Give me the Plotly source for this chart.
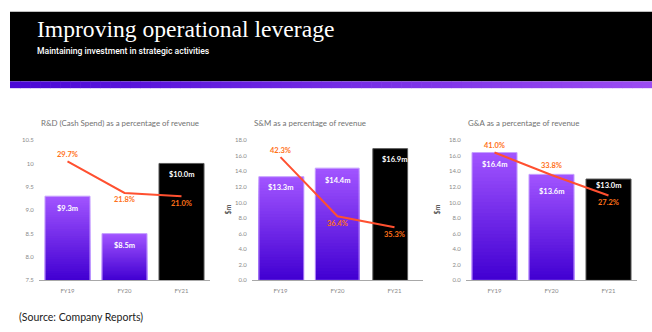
import plotly.graph_objects as go

W, H = 652, 332

# ---------------- data ----------------
categories = ["FY19", "FY20", "FY21"]

rd_spend = [9.3, 8.5, 10.0]          # $m
rd_pct = [29.7, 21.8, 21.0]          # % of revenue

sm_spend = [13.3, 14.4, 16.9]
sm_pct = [42.3, 36.4, 35.3]

ga_spend = [16.4, 13.6, 13.0]
ga_pct = [41.0, 33.8, 27.2]

chart_titles = [
    "R&D (Cash Spend) as a percentage of revenue",
    "S&M as a percentage of revenue",
    "G&A as a percentage of revenue",
]
rd_ticks = [7.5, 8.0, 8.5, 9.0, 9.5, 10.0, 10.5]
rd_ticktext = ["7.5", "8.0", "8.5", "9.0", "9.5", "10", "10.5"]
sm_ticks = [0, 2, 4, 6, 8, 10, 12, 14, 16, 18]
ga_ticks = [0, 2, 4, 6, 8, 10, 12, 14, 16, 18]
tick_text_18 = [f"{v:.1f}" for v in sm_ticks]

# ---------------- helpers (layout only) ----------------
def X(px):
    return px / W

def Y(py):
    return 1 - py / H

def lerp_color(c1, c2, t):
    a = [int(c1[i:i + 2], 16) for i in (1, 3, 5)]
    b = [int(c2[i:i + 2], 16) for i in (1, 3, 5)]
    return "rgb(%d,%d,%d)" % tuple(round(a[j] + (b[j] - a[j]) * t) for j in range(3))

TOP_PURPLE = "#a154ff"
BOT_PURPLE = "#4200d2"
OUTLINE = "#c7a2ff"
LINE_COL = "#ff5030"
PCT_COL = "#ff7118"
AX_GREY = "#8a8a8a"
FONT = "Lato"

fig = go.Figure()

charts = [
    dict(spend=rd_spend, pct=rd_pct, lo=7.5, hi=10.5, plo=0, phi=35,
         ticks=rd_ticks, ticktext=rd_ticktext,
         dom=(39, 210), widths=[0.79, 0.79, 0.79], offs=[-0.395, -0.395, -0.395],
         shifts=[7, -7, -7], lab_shifts=[-12, -12, -11]),
    dict(spend=sm_spend, pct=sm_pct, lo=0, hi=18, plo=30, phi=44,
         ticks=sm_ticks, ticktext=tick_text_18,
         dom=(252, 423), widths=[0.79, 0.77, 0.61], offs=[-0.38, -0.39, -0.38],
         shifts=[7, -7, -7], lab_shifts=[-11, -12, -11]),
    dict(spend=ga_spend, pct=ga_pct, lo=0, hi=18, plo=0, phi=45,
         ticks=ga_ticks, ticktext=tick_text_18,
         dom=(466, 637), widths=[0.79, 0.79, 0.79], offs=[-0.395, -0.395, -0.395],
         shifts=[7, 9, -7], lab_shifts=[-12, -17, -6]),
]

N = 36
annotations = []
layout_axes = {}
Y_TOP, Y_BOT = 139, 282.3

for ci, ch in enumerate(charts):
    xa = f"x{ci + 1}" if ci else "x"
    ya = f"y{ci + 1}" if ci else "y"
    ya2 = f"y{ci + 4}"
    purple = [i < 2 for i in range(3)]

    # gradient layers for the purple bars
    for k in range(N):
        frac = (N - k) / N
        yv = [ch["lo"] + (v - ch["lo"]) * frac if purple[i] else None
              for i, v in enumerate(ch["spend"])]
        col = lerp_color(TOP_PURPLE, BOT_PURPLE, k / (N - 1))
        fig.add_trace(go.Bar(
            x=categories, y=yv, xaxis=xa, yaxis=ya,
            width=ch["widths"], offset=ch["offs"],
            marker=dict(color=col, line=dict(width=0)),
            showlegend=False, hoverinfo="skip"))

    # outline / black bar
    fig.add_trace(go.Bar(
        x=categories, y=ch["spend"], xaxis=xa, yaxis=ya,
        width=ch["widths"], offset=ch["offs"],
        marker=dict(color=["rgba(0,0,0,0)", "rgba(0,0,0,0)", "#000000"],
                    line=dict(color=[OUTLINE, OUTLINE, "#5a5a5a"], width=1)),
        showlegend=False, name="$m"))

    # percentage line
    fig.add_trace(go.Scatter(
        x=categories, y=ch["pct"], xaxis=xa, yaxis=ya2, mode="lines",
        line=dict(color=LINE_COL, width=2), showlegend=False, name="% of revenue"))

    # bar labels
    for c, v, sh in zip(categories, ch["spend"], ch["lab_shifts"]):
        annotations.append(dict(
            x=c, y=v, xref=xa, yref=ya, text=f"${v:.1f}m", showarrow=False,
            yshift=sh, font=dict(family=FONT, size=7.5, color="white", weight="bold")))
    # pct labels
    for c, p, sh in zip(categories, ch["pct"], ch["shifts"]):
        annotations.append(dict(
            x=c, y=p, xref=xa, yref=ya2, text=f"{p:.1f}%", showarrow=False,
            yshift=sh, font=dict(family=FONT, size=7.5, color=PCT_COL, weight="bold")))
    # chart title
    annotations.append(dict(
        x=X(ch["dom"][0]), y=Y(122), xref="paper", yref="paper", xanchor="left",
        yanchor="middle", text=chart_titles[ci], showarrow=False,
        font=dict(family=FONT, size=7.9, color="#727272")))

    kx = "xaxis" + (str(ci + 1) if ci else "")
    ky = "yaxis" + (str(ci + 1) if ci else "")
    layout_axes[kx] = dict(
        domain=[X(ch["dom"][0]), X(ch["dom"][1])], anchor=ya, type="category",
        range=[-0.5, 2.5], showline=True, linecolor="#a8a8a8", linewidth=1,
        showgrid=False, zeroline=False, ticks="outside", ticklen=4,
        tickcolor="rgba(0,0,0,0)",
        tickfont=dict(family=FONT, size=6, color=AX_GREY), fixedrange=True)
    layout_axes[ky] = dict(
        domain=[Y(Y_BOT), Y(Y_TOP)], anchor=xa, range=[ch["lo"], ch["hi"]],
        tickvals=ch["ticks"], ticktext=ch["ticktext"], showline=False,
        showgrid=False, zeroline=False, ticks="outside", ticklen=3,
        tickcolor="rgba(0,0,0,0)",
        tickfont=dict(family=FONT, size=6, color=AX_GREY), fixedrange=True)
    layout_axes["yaxis" + str(ci + 4)] = dict(
        overlaying=ya, anchor=xa, range=[ch["plo"], ch["phi"]], visible=False,
        fixedrange=True)

# "$m" axis titles (partially seen in source)
for px in (228, 443):
    annotations.append(dict(
        x=X(px), y=Y(210), xref="paper", yref="paper", text="$m", textangle=-90,
        showarrow=False, font=dict(family=FONT, size=7, color="#5e5e5e", weight="bold")))

# header texts
annotations.append(dict(
    x=X(35), y=Y(26), xref="paper", yref="paper", xanchor="left", yanchor="middle",
    text="Improving operational leverage", showarrow=False,
    font=dict(family="Liberation Serif", size=23.6, color="white")))
annotations.append(dict(
    x=X(35), y=Y(48), xref="paper", yref="paper", xanchor="left", yanchor="middle",
    text="Maintaining investment in strategic activities", showarrow=False,
    font=dict(family="Roboto", size=8.6, color="white", weight=500)))
annotations.append(dict(
    x=X(17), y=Y(320), xref="paper", yref="paper", xanchor="left", yanchor="middle",
    text="(Source: Company Reports)", showarrow=False,
    font=dict(family=FONT, size=10.5, color="#222222")))

# header shapes
shapes = [dict(type="rect", xref="paper", yref="paper", x0=X(10), x1=1.0,
               y0=Y(79), y1=Y(8), fillcolor="black", line=dict(width=0), layer="below")]
NS = 64
for i in range(NS):
    x0 = 10 + (W - 10) * i / NS
    x1 = 10 + (W - 10) * (i + 1) / NS + 0.6
    shapes.append(dict(type="rect", xref="paper", yref="paper", x0=X(x0), x1=X(x1),
                       y0=Y(86), y1=Y(79),
                       fillcolor=lerp_color("#4a08d6", "#9b4cf2", i / (NS - 1)),
                       line=dict(width=0), layer="below"))

fig.update_layout(
    width=W, height=H, margin=dict(l=0, r=0, t=0, b=0),
    paper_bgcolor="white", plot_bgcolor="rgba(0,0,0,0)",
    barmode="overlay", bargap=0.21, showlegend=False,
    annotations=annotations, shapes=shapes, **layout_axes)

fig.write_html("out.html")
